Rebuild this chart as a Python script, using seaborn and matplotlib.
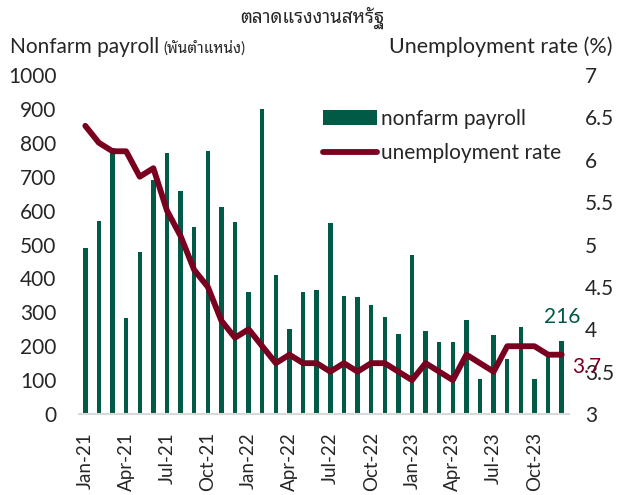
import matplotlib
matplotlib.use("Agg")
import matplotlib.pyplot as plt
import seaborn as sns
import pandas as pd
import numpy as np

# ข้อมูล: ม.ค. 2021 - ธ.ค. 2023
months = pd.date_range("2021-01-01", "2023-12-01", freq="MS")
payroll = [489, 570, 785, 282, 478, 690, 770, 659, 553, 777, 610, 565,
           360, 899, 410, 250, 360, 366, 564, 348, 346, 321, 286, 236,
           468, 244, 212, 212, 277, 102, 232, 161, 258, 102, 171, 216]
unemp = [6.4, 6.2, 6.1, 6.1, 5.8, 5.9, 5.4, 5.1, 4.7, 4.5, 4.1, 3.9,
         4.0, 3.8, 3.6, 3.7, 3.6, 3.6, 3.5, 3.6, 3.5, 3.6, 3.6, 3.5,
         3.4, 3.6, 3.5, 3.4, 3.7, 3.6, 3.5, 3.8, 3.8, 3.8, 3.7, 3.7]
labels = [m.strftime("%b-%y") for m in months]

df = pd.DataFrame({"month": labels, "payroll": payroll, "unemp": unemp})

GREEN = "#005a46"
RED = "#7a0020"
FONT = ["Lato", "Noto Sans Thai Looped", "DejaVu Sans"]
FS = 15

sns.set_theme(style="white")
plt.rcParams["font.family"] = FONT

fig = plt.figure(figsize=(6.25, 4.95), dpi=100)
ax = fig.add_axes([0.1256, 0.1636, 0.784, 0.6849])

sns.barplot(data=df, x="month", y="payroll", color=GREEN, width=0.33,
            saturation=1, linewidth=0, ax=ax, label="nonfarm payroll")
if ax.get_legend() is not None:
    ax.get_legend().remove()
ax.set_ylim(0, 1000)
ax.set_yticks(range(0, 1001, 100))
ax.set_xlim(-0.5, len(df) - 0.5)

ax2 = ax.twinx()
x = np.arange(len(df))
sns.lineplot(x=x, y=df["unemp"], color=RED, linewidth=4.2, ax=ax2,
             label="unemployment rate", legend=False)
ax2.set_ylim(3, 7)
ax2.set_yticks(np.arange(3, 7.01, 0.5))
ax2.set_yticklabels(["3", "3.5", "4", "4.5", "5", "5.5", "6", "6.5", "7"])

# แกน x: แสดงทุก 3 เดือน
ax.set_xticks(range(0, len(df), 3))
ax.set_xticklabels(labels[::3], rotation=90, fontsize=13.5)
ax.tick_params(axis="y", labelsize=FS, length=0, pad=16)
ax2.tick_params(axis="y", labelsize=FS, length=0, pad=12)
ax.tick_params(axis="x", length=0, pad=13)

for a in (ax, ax2):
    for s in a.spines.values():
        s.set_visible(False)
    a.set_xlabel("")
    a.set_ylabel("")
ax.spines["bottom"].set_visible(True)
ax.spines["bottom"].set_color("#d9d9d9")
ax.spines["bottom"].set_linewidth(1.5)

# ค่าล่าสุด
ax.text(len(df) - 1, payroll[-1] + 40, str(payroll[-1]), color=GREEN,
        fontsize=FS, ha="center", va="bottom")
ax2.text(len(df) - 0.2, unemp[-1] - 0.15, str(unemp[-1]), color=RED,
         fontsize=FS, ha="left", va="center")

# legend
h1, l1 = ax.get_legend_handles_labels()
h2, l2 = ax2.get_legend_handles_labels()
ax2.legend(h1 + h2, l1 + l2, loc="upper left", bbox_to_anchor=(0.499, 0.9),
           frameon=False, fontsize=FS, handlelength=2.6, handletextpad=0.2,
           labelspacing=0.7, borderpad=0, borderaxespad=0)

fig.text(0.5, 0.955, "ตลาดแรงงานสหรัฐ", ha="center", fontsize=13.5,
         fontweight="bold", family=["Noto Sans Thai Looped", "DejaVu Sans"])
t1 = fig.text(0.016, 0.893, "Nonfarm payroll", fontsize=FS, ha="left")
ax.annotate("(พันตำแหน่ง)", xy=(1, 0), xycoords=t1, xytext=(3, 1),
            textcoords="offset points", fontsize=11, ha="left", va="bottom",
            annotation_clip=False)
fig.text(0.98, 0.893, "Unemployment rate (%)", fontsize=15.5, ha="right")

fig.savefig("out.png", dpi=100)
